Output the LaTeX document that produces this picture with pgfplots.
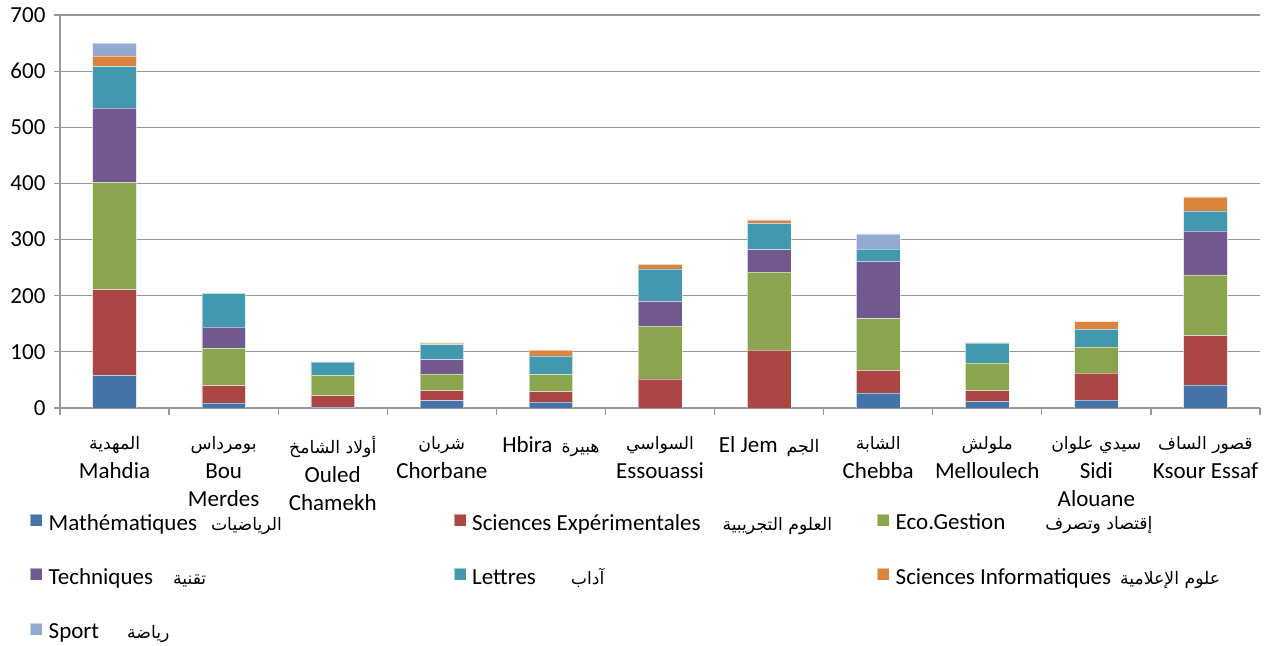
\documentclass[border=0pt]{standalone}
\usepackage{pgfplots}
\pgfplotsset{compat=1.18}
\usepackage{pgfplotstable}
\usepackage{fontspec}
\setmainfont{Carlito}
\newfontfamily\arabicfont[Script=Arabic,Scale=0.75]{DejaVu Sans}
\TeXXeTstate=1

\definecolor{cMath}{RGB}{69,114,167}
\definecolor{cSE}{RGB}{170,70,67}
\definecolor{cEco}{RGB}{137,165,78}
\definecolor{cTech}{RGB}{113,88,143}
\definecolor{cLet}{RGB}{65,152,175}
\definecolor{cInfo}{RGB}{219,132,61}
\definecolor{cSport}{RGB}{147,169,207}
\definecolor{gridgray}{RGB}{152,152,152}

% sections per delegation (Mahdia ... Ksour Essaf)
\pgfplotstableread{
x  Math SE  Eco Tech Let Info Sport
0  58   153 191 132  74  19   23
1  9    31  66  38   60  0    0
2  2    20  36  0    24  0    0
3  13   18  30  25   27  3    0
4  11   18  31  0    33  10   0
5  0    52  94  44   58  8    0
6  0    103 139 40   47  6    0
7  27   40  92  102  22  0    27
8  12   19  49  0    36  0    0
9  14   48  47  0    31  14   0
10 41   88  108 78   36  25   0
}\datatable

\begin{document}
\begin{tikzpicture}
\useasboundingbox (0pt,0pt) rectangle (1271pt,645pt);
\begin{axis}[
    at={(60pt,237pt)}, anchor=south west,
    width=1200pt, height=393pt, scale only axis,
    ybar stacked,
    bar width=0.4,
    xmin=-0.5, xmax=10.5,
    ymin=0, ymax=700,
    ytick={0,100,...,700},
    xtick={0,...,10},
    minor xtick={-0.5,0.5,...,10.5},
    xticklabels={
        {{\arabicfont\beginR المهدية\endR}\\Mahdia},
        {{\arabicfont\beginR بومرداس\endR}\\Bou\\Merdes},
        {{\arabicfont\beginR أولاد الشامخ\endR}\\Ouled\\Chamekh},
        {{\arabicfont\beginR شربان\endR}\\Chorbane},
        {Hbira\hspace{9pt}{\arabicfont\beginR هبيرة\endR}},
        {{\arabicfont\beginR السواسي\endR}\\Essouassi},
        {El Jem\hspace{9pt}{\arabicfont\beginR الجم\endR}},
        {{\arabicfont\beginR الشابة\endR}\\Chebba},
        {{\arabicfont\beginR ملولش\endR}\\Melloulech},
        {{\arabicfont\beginR سيدي علوان\endR}\\Sidi\\Alouane},
        {{\arabicfont\beginR قصور الساف\endR}\\Ksour Essaf}},
    xticklabel style={align=center, font=\fontsize{23}{28.5}\selectfont, yshift=-19pt},
    yticklabel style={font=\fontsize{23}{26}\selectfont, xshift=-5pt},
    /pgf/number format/assume math mode=true,
    axis x line*=bottom, axis y line*=left,
    axis line style={gridgray, line width=1.2pt},
    tick align=outside,
    major tick length=6pt, minor tick length=7pt,
    tick style={gridgray, line width=1.2pt},
    major x tick style={draw=none},
    ymajorgrids,
    grid style={gridgray, line width=1.2pt},
    legend columns=3,
    legend cell align=left,
    legend style={at={(-0.025,-0.268)}, anchor=north west, draw=none, fill=none,
        inner sep=0pt, row sep=36.5pt,
        nodes={inner sep=0pt},
        font=\fontsize{23}{26}\selectfont,
        /tikz/every odd column/.append style={column sep=6pt}},
    legend image code/.code={\fill[#1] (0pt,-3pt) rectangle (12pt,9pt);},
    every axis plot/.append style={draw=white, draw opacity=0.5, line width=0.5pt},
]
\addplot[fill=cMath] table[x=x,y=Math]{\datatable};
\addlegendentry{\makebox[405pt][l]{Mathématiques\hspace{14pt}{\arabicfont\beginR الرياضيات\endR}}}
\addplot[fill=cSE] table[x=x,y=SE]{\datatable};
\addlegendentry{\makebox[405pt][l]{Sciences Expérimentales\hspace{22pt}{\arabicfont\beginR العلوم التجريبية\endR}}}
\addplot[fill=cEco] table[x=x,y=Eco]{\datatable};
\addlegendentry{\makebox[370pt][l]{Eco.Gestion\hspace{40pt}{\arabicfont\beginR إقتصاد وتصرف\endR}}}
\addplot[fill=cTech] table[x=x,y=Tech]{\datatable};
\addlegendentry{\makebox[405pt][l]{Techniques\hspace{20pt}{\arabicfont\beginR تقنية\endR}}}
\addplot[fill=cLet] table[x=x,y=Let]{\datatable};
\addlegendentry{\makebox[405pt][l]{Lettres\hspace{35pt}{\arabicfont\beginR آداب\endR}}}
\addplot[fill=cInfo] table[x=x,y=Info]{\datatable};
\addlegendentry{\makebox[370pt][l]{Sciences Informatiques\hspace{9pt}{\arabicfont\beginR علوم الإعلامية\endR}}}
\addplot[fill=cSport] table[x=x,y=Sport]{\datatable};
\addlegendentry{\makebox[405pt][l]{Sport\hspace{28pt}{\arabicfont\beginR رياضة\endR}}}
\end{axis}
\end{tikzpicture}
\end{document}
